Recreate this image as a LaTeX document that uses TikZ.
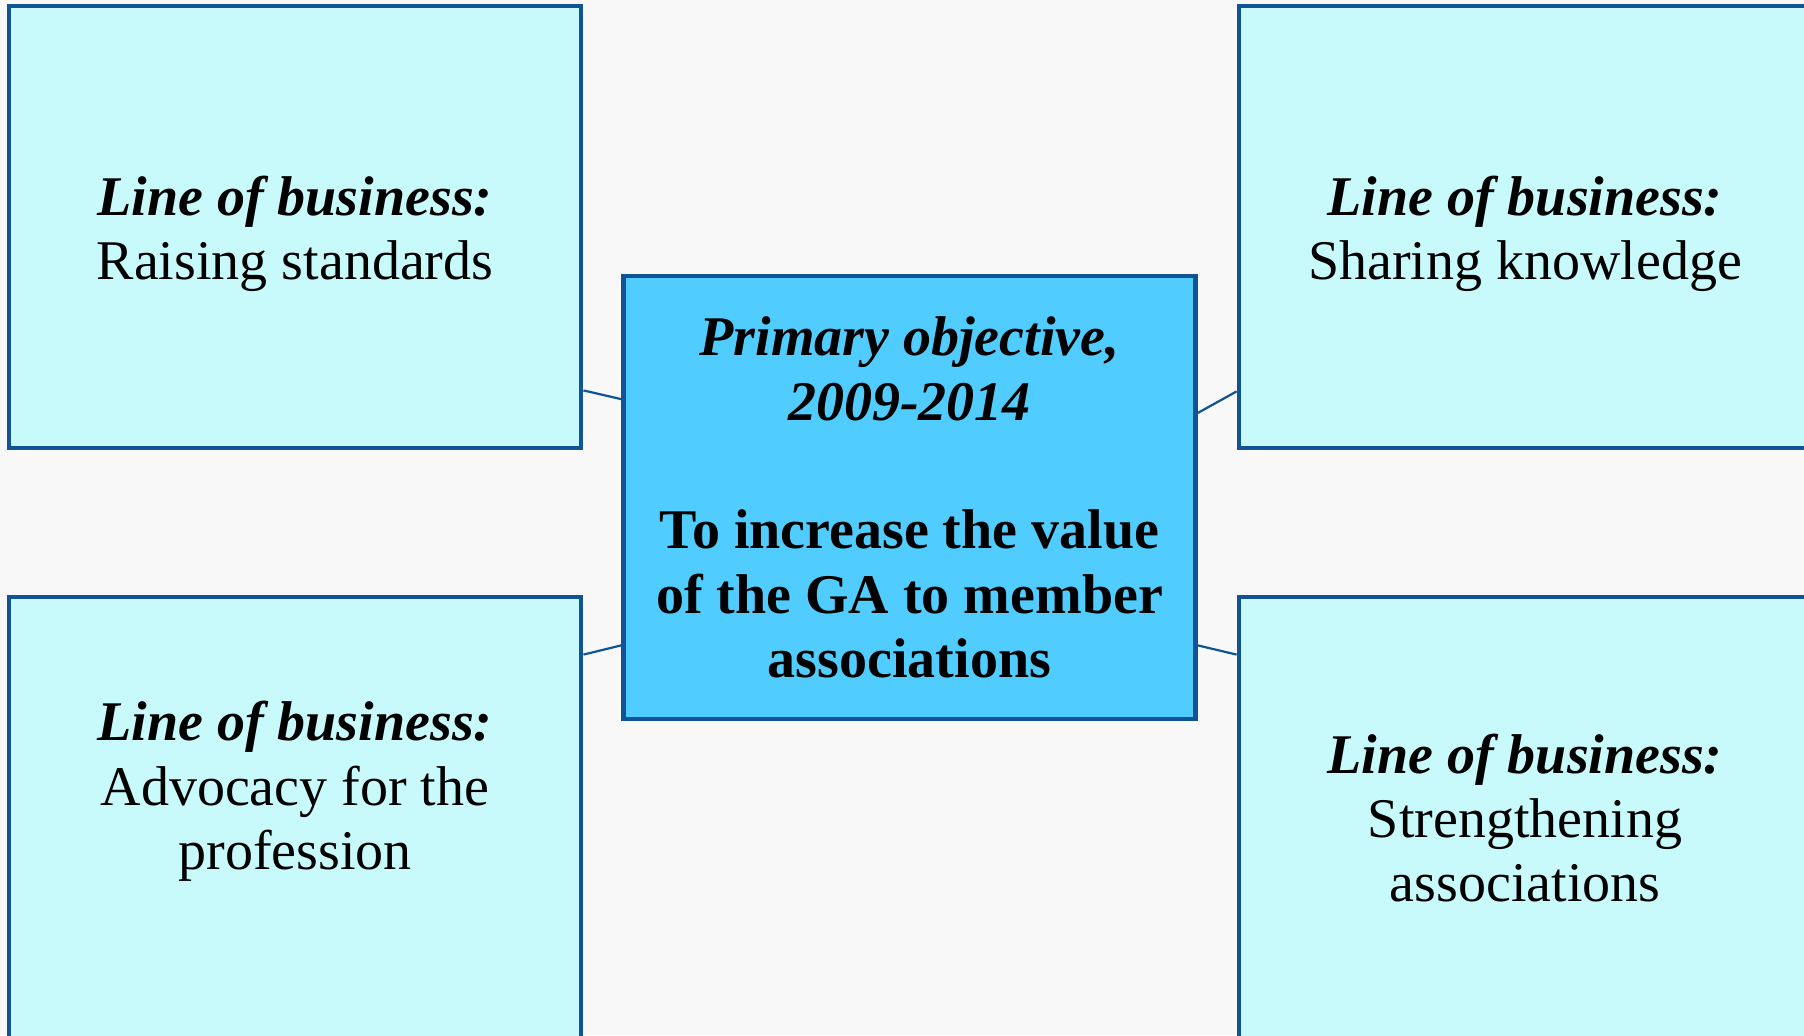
\documentclass[tikz,border=0pt]{standalone}
\usepackage{fontspec}
\setmainfont{Liberation Serif}
\usetikzlibrary{calc}
\definecolor{bgc}{RGB}{248,248,248}
\definecolor{lightbox}{RGB}{200,249,251}
\definecolor{centerbox}{RGB}{80,205,254}
\definecolor{edgeblue}{RGB}{16,84,150}
\tikzset{
  lobbox/.style={draw=edgeblue, line width=2.4pt, fill=lightbox, minimum width=286pt, minimum height=221pt, inner sep=0pt},
  lobtext/.style={inner sep=0pt, align=center, font=\fontsize{28}{32.2}\selectfont, text=black},
  objbox/.style={draw=edgeblue, line width=2.4pt, fill=centerbox, minimum width=286pt, minimum height=221.5pt, inner sep=0pt, align=center, font=\fontsize{28}{32.2}\selectfont\bfseries, text=black},
  conn/.style={draw=edgeblue, line width=1.1pt}
}
\begin{document}
\begin{tikzpicture}[x=0.5pt,y=-0.5pt]
\clip (0,0) rectangle (1804,1035);
\fill[bgc] (0,0) rectangle (1804,1035);
\node[lobbox] (tl) at (295,227) {};
\node[lobbox] (tr) at (1525,227) {};
\node[lobbox] (bl) at (295,818) {};
\node[lobbox] (br) at (1525,818) {};
\node[lobtext] (tlt) at ([yshift=-3.5pt]tl.center) {\textbf{\textit{Line of business:}}\\Raising standards};
\node[lobtext] (trt) at ([yshift=-3.5pt]tr.center) {\textbf{\textit{Line of business:}}\\Sharing knowledge};
\node[lobtext] (blt) at ([yshift=13.3pt]bl.center) {\textbf{\textit{Line of business:}}\\Advocacy for the\\profession};
\node[lobtext] (brt) at (br.center) {\textbf{\textit{Line of business:}}\\Strengthening\\associations};
\node[objbox] (c) at (909.5,497.5) {\textit{Primary objective,}\\\textit{2009-2014}\\~\\To increase the value\\of the GA to member\\associations};
\draw[conn] ([yshift=30pt]tl.south east) -- ([yshift=-62.75pt]c.north west);
\draw[conn] ([yshift=-69.65pt]c.north east) -- ([yshift=29.5pt]tr.south west);
\draw[conn] ([yshift=-30pt]bl.north east) -- ([yshift=38pt]c.south west);
\draw[conn] ([yshift=38pt]c.south east) -- ([yshift=-30pt]br.north west);
\end{tikzpicture}
\end{document}
